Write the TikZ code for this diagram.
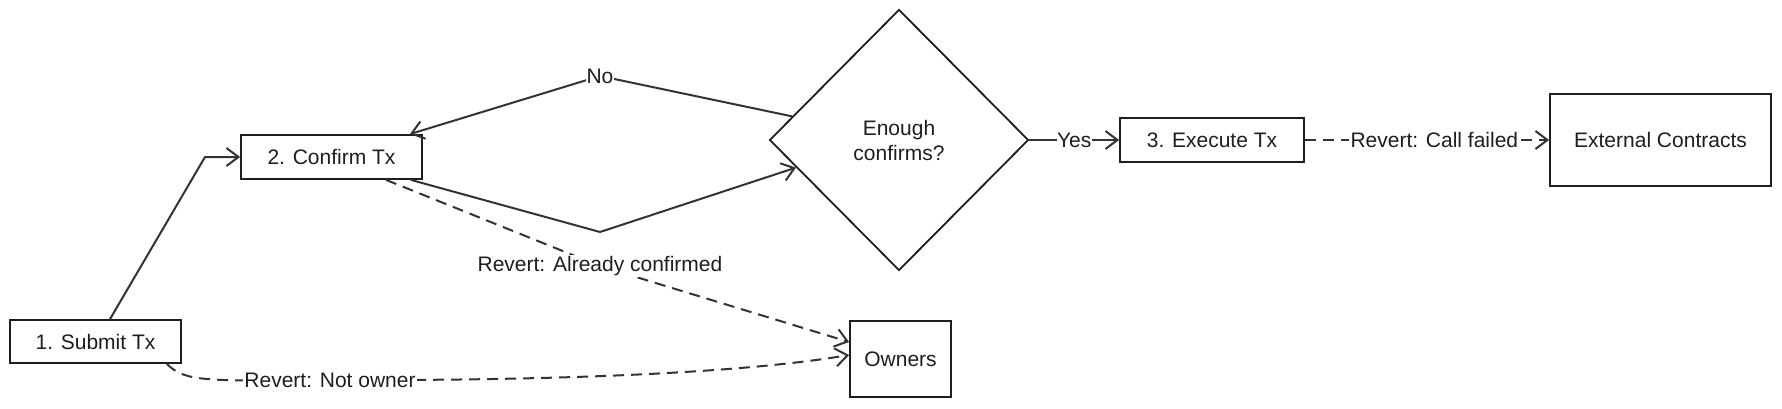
\documentclass[tikz,border=0pt]{standalone}
\usepackage{fontspec}
\setmainfont{Liberation Sans}
\usetikzlibrary{arrows.meta,shapes.geometric,calc}
\definecolor{ink}{HTML}{1E1E1E}
\definecolor{edgec}{HTML}{333333}
\definecolor{txt}{HTML}{1E1E1E}
\newcommand\diagfont{\fontsize{21}{25}\selectfont}
\begin{document}
\begin{tikzpicture}[x=1pt,y=-1pt,
  box/.style={draw=ink, line width=1.8pt, fill=white, inner sep=0pt, font=\diagfont, text=txt},
  decision/.style={diamond, draw=ink, line width=1.8pt, inner sep=0pt, minimum width=259pt, minimum height=261pt, font=\diagfont, text=txt, align=center},
  lbl/.style={fill=white, inner sep=1.5pt, font=\diagfont, text=txt},
  link/.style={draw=edgec, line width=2pt, -{Straight Barb[length=12pt,width=18pt]}},
  dlink/.style={link, dash pattern=on 11pt off 7pt}
]
\useasboundingbox (0,0) rectangle (1782,408);
% nodes
\node[box, minimum width=171pt, minimum height=43pt] (s1) at (95.5,341.5) {1. Submit Tx};
\node[box, minimum width=181pt, minimum height=44pt] (s2) at (331.5,157) {2. Confirm Tx};
\node[decision] (d) at (899,140) {Enough\\confirms?};
\node[box, minimum width=184pt, minimum height=44pt] (s3) at (1212,140) {3. Execute Tx};
\node[box, minimum width=221pt, minimum height=92pt] (ext) at (1660.5,140) {External Contracts};
\node[box, minimum width=101pt, minimum height=76pt] (own) at (900.5,359) {Owners};
% helper coordinates
\coordinate (c1) at (205,157);
\coordinate (c2) at (600,232);
\coordinate (cno) at (600,76);
\coordinate (cac) at (600,266);
\coordinate (cno2) at (330,380);
% edges
\draw[link] ($(s1.north)+(14.5,0)$) -- (c1) -- (s2.west);
\draw[link] ($(s2.south east)+(-12,0)$) -- (c2) -- ($(d.west)!0.21!(d.south)$);
\draw[link] ($(d.west)!0.18!(d.north)$) -- (cno) node[lbl, inner sep=0.5pt] {No} -- ($(s2.north east)+(-13,0)$);
\draw[link] (d.east) -- node[lbl, inner sep=0.5pt] {Yes} (s3.west);
\draw[dlink] (s3.east) -- node[lbl, pos=0.53] {Revert: Call failed} (ext.west);
\draw[dlink] ($(s2.south)+(54.5,0)$) -- (cac) node[lbl] {Revert: Already confirmed} -- ($(own.west)+(0,-17)$);
\draw[dlink] ($(s1.south east)+(-15,0)$) .. controls (185,382) and (205,381) .. (cno2) node[lbl] {Revert: Not owner}
   .. controls (600,381) and (760,370) .. ($(own.west)+(0,-4)$);
\end{tikzpicture}
\end{document}
